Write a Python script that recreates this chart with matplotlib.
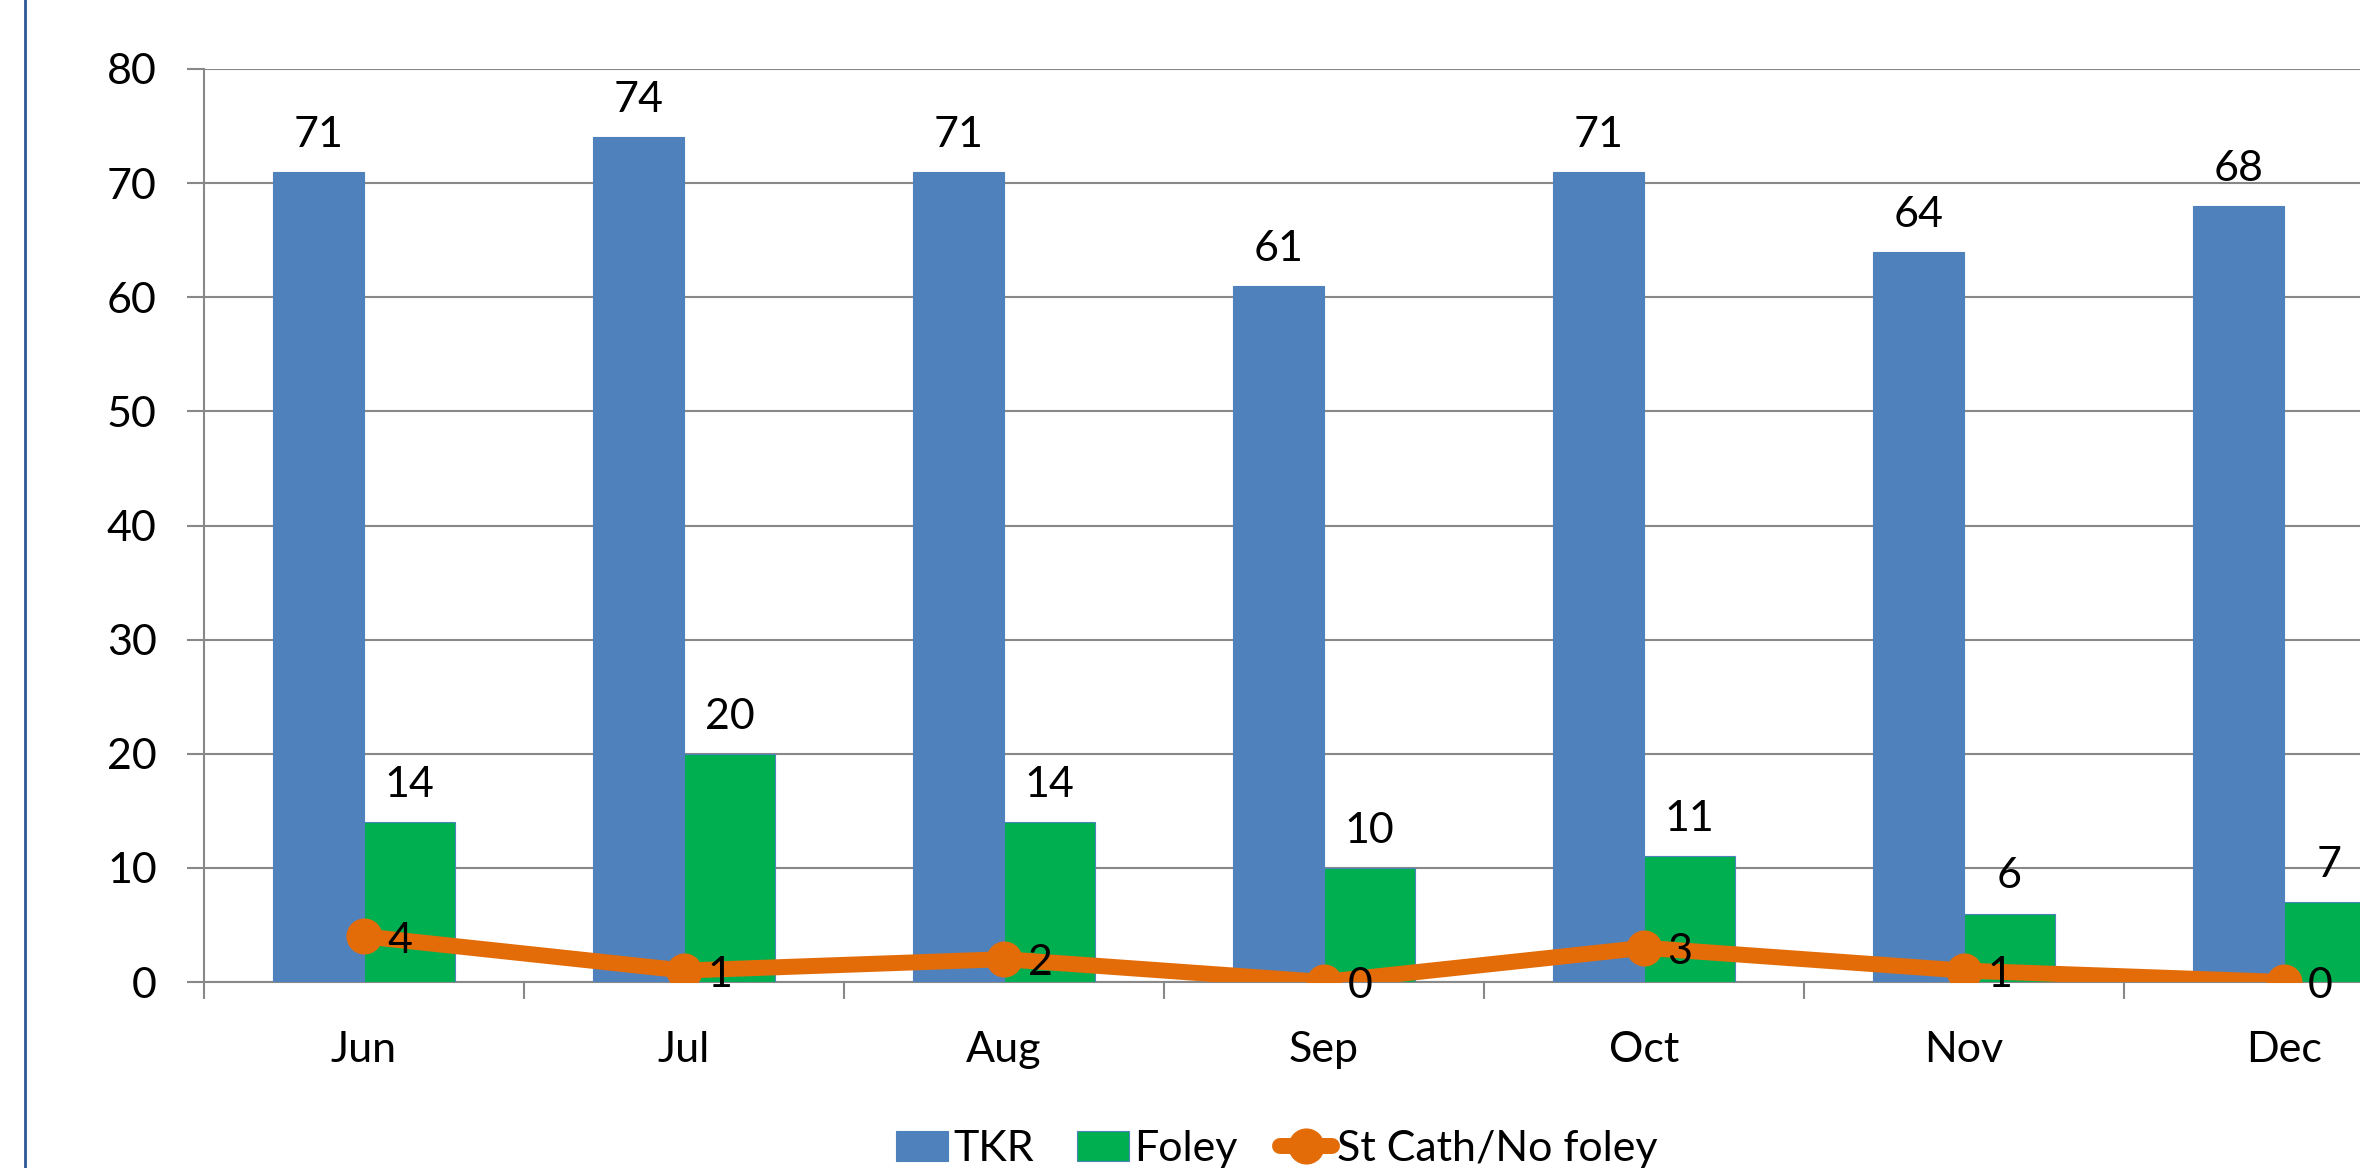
import numpy as np
import matplotlib.pyplot as plt
from matplotlib.lines import Line2D

# chart data
months = ['Jun', 'Jul', 'Aug', 'Sep', 'Oct', 'Nov', 'Dec']
tkr = [71, 74, 71, 61, 71, 64, 68]
foley = [14, 20, 14, 10, 11, 6, 7]
st_cath = [4, 1, 2, 0, 3, 1, 0]

blue = '#4F81BD'
green = '#00B050'
orange = '#E36C09'
grid_col = '#888888'

plt.rcParams['font.family'] = ['Lato', 'DejaVu Sans']

W, H = 2360, 1168
fig = plt.figure(figsize=(W / 100, H / 100), dpi=100)

# plot area runs past the right edge (the source image is cropped)
x0, ytop, y0, cat_w = 204, 69, 982, 320
ax = fig.add_axes([x0 / W, (H - y0) / H, 7 * cat_w / W, (y0 - ytop) / H])

x = np.arange(len(months))
bw = 0.285
b1 = ax.bar(x - bw / 2, tkr, bw, color=blue, edgecolor=blue, linewidth=0.8, zorder=3, label='TKR')
b2 = ax.bar(x + bw / 2, foley, bw, color=green, edgecolor=blue, linewidth=0.8, zorder=3, label='Foley')
ln, = ax.plot(x, st_cath, color=orange, lw=11.5, marker='o', ms=25, zorder=4,
              solid_capstyle='round', label='St Cath/No foley')

fs = 31
for i in range(len(months)):
    ax.annotate(str(tkr[i]), (x[i] - bw / 2, tkr[i]), xytext=(0, 13), textcoords='offset points',
                ha='center', va='bottom', fontsize=fs)
    ax.annotate(str(foley[i]), (x[i] + bw / 2, foley[i]), xytext=(0, 13), textcoords='offset points',
                ha='center', va='bottom', fontsize=fs)
    ax.annotate(str(st_cath[i]), (x[i], st_cath[i]), xytext=(17, -3), textcoords='offset points',
                ha='left', va='center', fontsize=fs, zorder=5)

ax.set_xlim(-0.5, 6.5)
ax.set_ylim(0, 80)
ax.set_yticks(np.arange(0, 81, 10))
ax.yaxis.grid(True, color=grid_col, lw=1.5, zorder=0)
ax.set_axisbelow(True)

# tick marks between categories, labels at the centres
ax.set_xticks(np.arange(-0.5, 7, 1))
ax.set_xticklabels([])
ax.set_xticks(x, minor=True)
ax.set_xticklabels(months, minor=True)
ax.tick_params(axis='x', which='major', length=12, width=1.5, color=grid_col)
ax.tick_params(axis='x', which='minor', length=0, pad=35, labelsize=fs)
ax.tick_params(axis='y', length=12, width=1.5, color=grid_col, pad=22, labelsize=fs)

for s in ['top', 'right']:
    ax.spines[s].set_visible(False)
for s in ['left', 'bottom']:
    ax.spines[s].set_color(grid_col)
    ax.spines[s].set_linewidth(1.5)

# dark blue frame edge on the left
fig.add_artist(Line2D([25 / W, 25 / W], [0, 1], color='#2F5597', lw=2, transform=fig.transFigure))

# legend sits right on the bottom edge, as in the source
fig.legend([b1, b2, ln], ['TKR', 'Foley', 'St Cath/No foley'],
           loc='center', bbox_to_anchor=(1277 / W, (H - 1149) / H), ncol=3, frameon=False,
           fontsize=fs, handlelength=1.2, handleheight=0.7, handletextpad=0.12,
           columnspacing=1.0, markerscale=1.0, borderaxespad=0, borderpad=0)

fig.savefig('out.png', dpi=100)
